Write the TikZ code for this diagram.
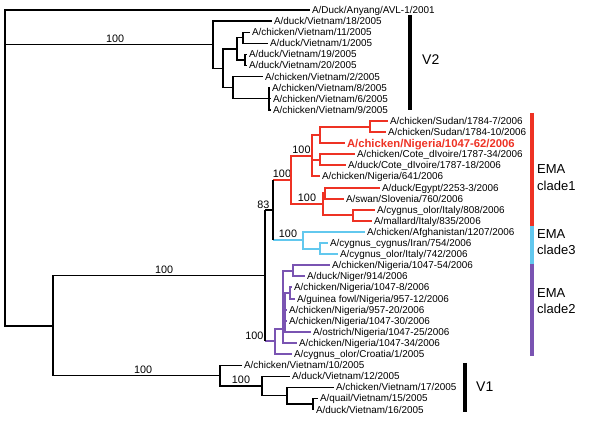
\documentclass[tikz,border=0pt]{standalone}
\usepackage{fontspec}
\setmainfont{Liberation Sans}
\usetikzlibrary{positioning}
\definecolor{cladeRed}{RGB}{238,50,36}
\definecolor{cladeBlue}{RGB}{98,200,238}
\definecolor{cladePurple}{RGB}{122,84,178}
\tikzstyle{Leaf}=[anchor=west, inner xsep=1.8pt, inner ysep=0pt, text height=7pt, text depth=0pt, font=\fontsize{9.9}{10}\selectfont]
\tikzstyle{Boot}=[above, inner sep=1.5pt, text=black, font=\fontsize{10.8}{11}\selectfont]
\tikzstyle{Branch}=[line width=1.35pt]
\tikzstyle{RedBranch}=[line width=2pt, cladeRed]
\tikzstyle{BlueBranch}=[line width=2pt, cladeBlue]
\tikzstyle{PurpleBranch}=[line width=2pt, cladePurple]
\tikzstyle{Bar}=[line width=4pt]
\tikzstyle{Group}=[anchor=west, align=left, inner sep=0pt, font=\fontsize{13}{16.5}\selectfont]

\begin{document}
\begin{tikzpicture}[x=1pt, y=-1pt]
  \useasboundingbox (0,0) rectangle (600,427);
  % outgroup and V2
  \node[Leaf] (a0) at (310,10.0) {A/Duck/Anyang/AVL-1/2001};
  \node[Leaf] (a1) at (272,21.1) {A/duck/Vietnam/18/2005};
  \node[Leaf] (a2) at (250,32.2) {A/chicken/Vietnam/11/2005};
  \node[Leaf] (a3) at (268,43.3) {A/duck/Vietnam/1/2005};
  \node[Leaf] (a4) at (247,54.4) {A/duck/Vietnam/19/2005};
  \node[Leaf] (a5) at (247,65.5) {A/duck/Vietnam/20/2005};
  \node[Leaf] (a6) at (263,76.6) {A/chicken/Vietnam/2/2005};
  \node[Leaf] (a7) at (270,87.7) {A/chicken/Vietnam/8/2005};
  \node[Leaf] (a8) at (271,98.8) {A/chicken/Vietnam/6/2005};
  \node[Leaf] (a9) at (271,109.9) {A/chicken/Vietnam/9/2005};
  % EMA clade1
  \node[Leaf] (a10) at (388,121.0) {A/chicken/Sudan/1784-7/2006};
  \node[Leaf] (a11) at (386,132.1) {A/chicken/Sudan/1784-10/2006};
  \node[Leaf, text=cladeRed, text height=8pt, font=\fontsize{11.3}{12}\selectfont\bfseries] (a12) at (345,143.2) {A/chicken/Nigeria/1047-62/2006};
  \node[Leaf] (a13) at (355,154.3) {A/chicken/Cote\_dIvoire/1787-34/2006};
  \node[Leaf] (a14) at (346,165.4) {A/duck/Cote\_dIvoire/1787-18/2006};
  \node[Leaf] (a15) at (320,176.5) {A/chicken/Nigeria/641/2006};
  \node[Leaf] (a16) at (380,187.6) {A/duck/Egypt/2253-3/2006};
  \node[Leaf] (a17) at (344,198.7) {A/swan/Slovenia/760/2006};
  \node[Leaf] (a18) at (375,209.8) {A/cygnus\_olor/Italy/808/2006};
  \node[Leaf] (a19) at (372,220.9) {A/mallard/Italy/835/2006};
  % EMA clade3
  \node[Leaf] (a20) at (365,232.0) {A/chicken/Afghanistan/1207/2006};
  \node[Leaf] (a21) at (328,243.1) {A/cygnus\_cygnus/Iran/754/2006};
  \node[Leaf] (a22) at (338,254.2) {A/cygnus\_olor/Italy/742/2006};
  % EMA clade2
  \node[Leaf] (a23) at (330,265.3) {A/chicken/Nigeria/1047-54/2006};
  \node[Leaf] (a24) at (305,276.4) {A/duck/Niger/914/2006};
  \node[Leaf] (a25) at (292,287.5) {A/chicken/Nigeria/1047-8/2006};
  \node[Leaf] (a26) at (295,298.6) {A/guinea fowl/Nigeria/957-12/2006};
  \node[Leaf] (a27) at (287,309.7) {A/chicken/Nigeria/957-20/2006};
  \node[Leaf] (a28) at (287,320.8) {A/chicken/Nigeria/1047-30/2006};
  \node[Leaf] (a29) at (311,331.9) {A/ostrich/Nigeria/1047-25/2006};
  \node[Leaf] (a30) at (297,343.0) {A/chicken/Nigeria/1047-34/2006};
  \node[Leaf] (a31) at (292,354.1) {A/cygnus\_olor/Croatia/1/2005};
  % V1
  \node[Leaf] (a32) at (242,365.2) {A/chicken/Vietnam/10/2005};
  \node[Leaf] (a33) at (290,376.3) {A/duck/Vietnam/12/2005};
  \node[Leaf] (a34) at (334,387.4) {A/chicken/Vietnam/17/2005};
  \node[Leaf] (a35) at (318,398.5) {A/quail/Vietnam/15/2005};
  \node[Leaf] (a36) at (314,409.6) {A/duck/Vietnam/16/2005};

  % inner nodes
  \coordinate (root) at (5,168);
  \coordinate (v2) at (213,44.7);
  \coordinate (va) at (223,68.3);
  \coordinate (vb) at (237,48.9);
  \coordinate (vc) at (233,87.7);
  \coordinate (vd) at (243,37.8);
  \coordinate (ve) at (245,60.0);
  \coordinate (vf) at (269,98.8);
  \coordinate (m) at (53,326);
  \coordinate (ema) at (265,275.8);
  \coordinate (f) at (273,210);
  \coordinate (red) at (291,180);
  \coordinate (r1) at (312,155.7);
  \coordinate (r2) at (320,134.9);
  \coordinate (sudan) at (370,126.6);
  \coordinate (cote) at (320,159.9);
  \coordinate (r3) at (323,204.2);
  \coordinate (r4) at (325,193.1);
  \coordinate (italy) at (353,215.3);
  \coordinate (blue) at (303,240.3);
  \coordinate (b1) at (320,248.7);
  \coordinate (purple) at (275,341.5);
  \coordinate (p1) at (283,329);
  \coordinate (p2) at (293,270.9);
  \coordinate (p3) at (285,312);
  \coordinate (p4) at (290,293);
  \coordinate (v1) at (220,375.6);
  \coordinate (w) at (262,386);
  \coordinate (w1) at (287,395.7);
  \coordinate (w2) at (313,404);

  % V2 part
  \draw[Branch] (root) |- (a0.west);
  \draw[Branch] (root) |- node[Boot, pos=0.765] {100} (v2);
  \draw[Branch] (root) |- (m);
  \draw[Branch] (v2) |- (a1.west);
  \draw[Branch] (v2) |- (va);
  \draw[Branch] (va) |- (vb);
  \draw[Branch] (va) |- (vc);
  \draw[Branch] (vb) |- (vd);
  \draw[Branch] (vb) |- (ve);
  \draw[Branch] (vd) |- (a2.west);
  \draw[Branch] (vd) |- (a3.west);
  \draw[Branch] (ve) |- (a4.west);
  \draw[Branch] (ve) |- (a5.west);
  \draw[Branch] (vc) |- (a6.west);
  \draw[Branch] (vc) |- (vf);
  \draw[Branch] (vf) |- (a7.west);
  \draw[Branch] (vf) |- (a8.west);
  \draw[Branch] (vf) |- (a9.west);

  % clade1
  \draw[RedBranch] (f |- red) -- node[Boot] {100} (red);
  \draw[RedBranch] (red) |- node[Boot, pos=0.75] {100} (r1);
  \draw[RedBranch] (red) |- node[Boot, pos=0.75] {100} (r3);
  \draw[RedBranch] (r1) |- (r2);
  \draw[RedBranch] (r1) |- (cote);
  \draw[RedBranch] (r1) |- (a15.west);
  \draw[RedBranch] (r2) |- (sudan);
  \draw[RedBranch] (r2) |- (a12.west);
  \draw[RedBranch] (sudan) |- (a10.west);
  \draw[RedBranch] (sudan) |- (a11.west);
  \draw[RedBranch] (cote) |- (a13.west);
  \draw[RedBranch] (cote) |- (a14.west);
  \draw[RedBranch] (r3) |- (r4);
  \draw[RedBranch] (r3) |- (italy);
  \draw[RedBranch] (r4) |- (a16.west);
  \draw[RedBranch] (r4) |- (a17.west);
  \draw[RedBranch] (italy) |- (a18.west);
  \draw[RedBranch] (italy) |- (a19.west);

  % clade3
  \draw[BlueBranch] (f |- blue) -- node[Boot] {100} (blue);
  \draw[BlueBranch] (blue) |- (a20.west);
  \draw[BlueBranch] (blue) |- (b1);
  \draw[BlueBranch] (b1) |- (a21.west);
  \draw[BlueBranch] (b1) |- (a22.west);

  % clade2
  \draw[PurpleBranch] (ema |- purple) -- (purple);
  \draw[PurpleBranch] (purple) |- (p1);
  \draw[PurpleBranch] (purple) |- (a31.west);
  \draw[PurpleBranch] (p1) |- (p2);
  \draw[PurpleBranch] (p1) |- (p3);
  \draw[PurpleBranch] (p1) |- (a30.west);
  \draw[PurpleBranch] (p2) |- (a23.west);
  \draw[PurpleBranch] (p2) |- (a24.west);
  \draw[PurpleBranch] (p3) |- (p4);
  \draw[PurpleBranch] (p3) |- (a27.west);
  \draw[PurpleBranch] (p3) |- (a28.west);
  \draw[PurpleBranch] (p3) |- (a29.west);
  \draw[PurpleBranch] (p4) |- (a25.west);
  \draw[PurpleBranch] (p4) |- (a26.west);

  % EMA stem and V1
  \draw[Branch] (m) |- node[Boot, pos=0.762] {100} (ema);
  \draw[Branch] (ema |- f) -- (ema |- purple);
  \draw[Branch] (ema |- f) -- (f);
  \draw[Branch] (f |- red) -- (f |- blue);
  \node[Boot, anchor=south east] at ([xshift=-2pt]f) {83};
  \node[Boot, anchor=south east] at (ema |- purple) {100};
  \draw[Branch] (m) |- node[Boot, pos=0.77] {100} (v1);
  \draw[Branch] (v1) |- (a32.west);
  \draw[Branch] (v1) |- node[Boot, pos=0.75] {100} (w);
  \draw[Branch] (w) |- (a33.west);
  \draw[Branch] (w) |- (w1);
  \draw[Branch] (w1) |- (a34.west);
  \draw[Branch] (w1) |- (w2);
  \draw[Branch] (w2) |- (a35.west);
  \draw[Branch] (w2) |- (a36.west);

  % clade bars
  \draw[Bar] (410,15) -- (410,110);
  \node[Group, font=\fontsize{14}{14}\selectfont] (gv2) at (422,60) {V2};
  \draw[Bar] (465,363) -- (465,412);
  \node[Group, font=\fontsize{14}{14}\selectfont] (gv1) at (476,387) {V1};
  \draw[Bar, line width=3.2pt, cladeRed] (532,113) -- (532,226);
  \draw[Bar, line width=3.2pt, cladeBlue] (532,226) -- (532,264);
  \draw[Bar, line width=3.2pt, cladePurple] (532,264) -- (532,356);
  \node[Group] (gc1) at (537,177.5) {EMA\\clade1};
  \node[Group] (gc3) at (537,242) {EMA\\clade3};
  \node[Group] (gc2) at (537,301) {EMA\\clade2};
\end{tikzpicture}
\end{document}
